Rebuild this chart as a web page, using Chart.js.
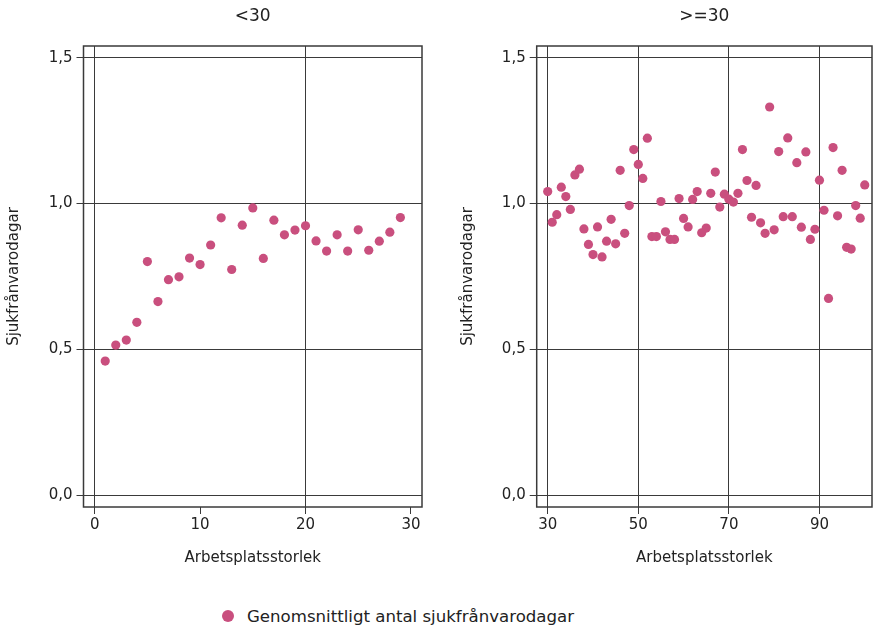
<!DOCTYPE html>
<html>
<head>
<meta charset="utf-8">
<script src="https://cdn.jsdelivr.net/npm/chart.js@4"></script>
<style>
  body { margin: 0; background: #fff; overflow: hidden; }
  .wrap { position: absolute; top: 0; }
  #legend { position: absolute; left: 222px; top: 606px; height: 20px; display: flex; align-items: center;
            font-family: "DejaVu Sans", sans-serif; font-size: 16.6px; color: #222; }
  #legend span.dot { width: 12px; height: 12px; border-radius: 50%; background: #c94f7e; margin-right: 13px; }
</style>
</head>
<body>
<div class="wrap" style="left:0"><canvas id="smallChart" width="440" height="580"></canvas></div>
<div class="wrap" style="left:450px"><canvas id="largeChart" width="423" height="580"></canvas></div>
<div id="legend"><span class="dot"></span><span id="legendText"></span></div>
<script>
// workplace size < 30
const smallSizes = [1, 2, 3, 4, 5, 6, 7, 8, 9, 10, 11, 12, 13, 14, 15, 16, 17, 18, 19, 20, 21, 22, 23, 24, 25, 26, 27, 28, 29];
const smallValues = [0.460, 0.515, 0.532, 0.593, 0.801, 0.664, 0.739, 0.749, 0.813, 0.791, 0.858, 0.951, 0.774, 0.926,
  0.985, 0.812, 0.943, 0.893, 0.909, 0.924, 0.872, 0.837, 0.893, 0.837, 0.910, 0.840, 0.871, 0.902, 0.952];

// workplace size >= 30
const largeSizes = [30, 31, 32, 33, 34, 35, 36, 37, 38, 39, 40, 41, 42, 43, 44, 45, 46, 47, 48, 49, 50, 51, 52, 53, 54,
  55, 56, 57, 58, 59, 60, 61, 62, 63, 64, 65, 66, 67, 68, 69, 70, 71, 72, 73, 74, 75, 76, 77, 78, 79, 80, 81, 82, 83,
  84, 85, 86, 87, 88, 89, 90, 91, 92, 93, 94, 95, 96, 97, 98, 99, 100];
const largeValues = [1.041, 0.936, 0.962, 1.056, 1.024, 0.980, 1.098, 1.118, 0.913, 0.860, 0.825, 0.920, 0.817, 0.871,
  0.946, 0.862, 1.114, 0.898, 0.993, 1.185, 1.134, 1.086, 1.224, 0.887, 0.887, 1.007, 0.903, 0.877, 0.877, 1.017,
  0.949, 0.920, 1.014, 1.041, 0.900, 0.916, 1.035, 1.108, 0.988, 1.032, 1.015, 1.005, 1.035, 1.185, 1.079, 0.953,
  1.062, 0.934, 0.898, 1.331, 0.910, 1.178, 0.955, 1.225, 0.955, 1.140, 0.919, 1.177, 0.877, 0.912, 1.080, 0.977,
  0.675, 1.192, 0.958, 1.114, 0.850, 0.844, 0.993, 0.950, 1.064];

const yTicks = [0, 0.5, 1, 1.5];
const yTickLabels = ['0,0', '0,5', '1,0', '1,5'];
const smallXTicks = [0, 10, 20, 30];
const smallXGrid = [0, 20];
const largeXTicks = [30, 50, 70, 90];

const seriesName = 'Genomsnittligt antal sjukfrånvarodagar';
const xTitle = 'Arbetsplatsstorlek';
const yTitle = 'Sjukfrånvarodagar';
const pink = '#c94f7e';
const lineCol = '#3a3a3a';
const font = '"DejaVu Sans", sans-serif';

document.getElementById('legendText').textContent = seriesName;

// frame around the plot area
const boxFrame = {
  id: 'boxFrame',
  beforeDatasetsDraw(chart) {
    const a = chart.chartArea, ctx = chart.ctx;
    ctx.save();
    ctx.strokeStyle = lineCol;
    ctx.lineWidth = 1.5;
    ctx.strokeRect(a.left, a.top, a.right - a.left, a.bottom - a.top);
    ctx.restore();
  }
};

function makeChart(id, title, xs, ys, xMin, xMax, xTicks, xGrid, cfg) {
  const points = xs.map((x, i) => ({ x: x, y: ys[i] }));
  return new Chart(document.getElementById(id), {
    type: 'scatter',
    data: { datasets: [{ label: seriesName, data: points, backgroundColor: pink, borderColor: pink,
      pointRadius: 4.6, pointHoverRadius: 4.6, borderWidth: 0 }] },
    plugins: [boxFrame],
    options: {
      responsive: false,
      animation: false,
      layout: { autoPadding: false, padding: { left: 0, right: cfg.padRight, top: 0, bottom: 0 } },
      plugins: {
        legend: { display: false },
        tooltip: { enabled: false },
        title: { display: true, text: title, fullSize: false, color: '#222',
          font: { family: font, size: 17, weight: 'normal' }, padding: { top: 6.8, bottom: 18.8 } }
      },
      scales: {
        x: {
          type: 'linear', min: xMin, max: xMax,
          afterBuildTicks: s => { s.ticks = xTicks.map(v => ({ value: v })); },
          afterFit: s => { s.height = 73; s.paddingLeft = 0; s.paddingRight = 0; },
          grid: {
            color: c => (xGrid.includes(c.tick.value) ? lineCol : 'rgba(0,0,0,0)'),
            tickColor: lineCol, tickLength: 7, lineWidth: 1
          },
          border: { display: false },
          ticks: { color: '#222', padding: 2, font: { family: font, size: 15 } },
          title: { display: true, text: xTitle, color: '#222', font: { family: font, size: 15 },
            padding: { top: 0, bottom: 13 } }
        },
        y: {
          min: -0.04, max: 1.54,
          afterBuildTicks: s => { s.ticks = yTicks.map(v => ({ value: v })); },
          afterFit: s => { s.width = cfg.yWidth; },
          grid: { color: lineCol, tickColor: lineCol, tickLength: 7, lineWidth: 1 },
          border: { display: false },
          ticks: { color: '#222', padding: 4, font: { family: font, size: 15 },
            callback: v => yTickLabels[yTicks.indexOf(v)] },
          title: { display: true, text: yTitle, color: '#222', font: { family: font, size: 15 },
            padding: { top: cfg.yTitlePad, bottom: 0 } }
        }
      }
    }
  });
}

makeChart('smallChart', '<30', smallSizes, smallValues, -1.06, 31.05, smallXTicks, smallXGrid,
  { padRight: 18, yWidth: 83.5, yTitlePad: 5 });
makeChart('largeChart', '>=30', largeSizes, largeValues, 27.57, 101.6, largeXTicks, largeXTicks,
  { padRight: 1, yWidth: 86.7, yTitlePad: 9 });
</script>
</body>
</html>
